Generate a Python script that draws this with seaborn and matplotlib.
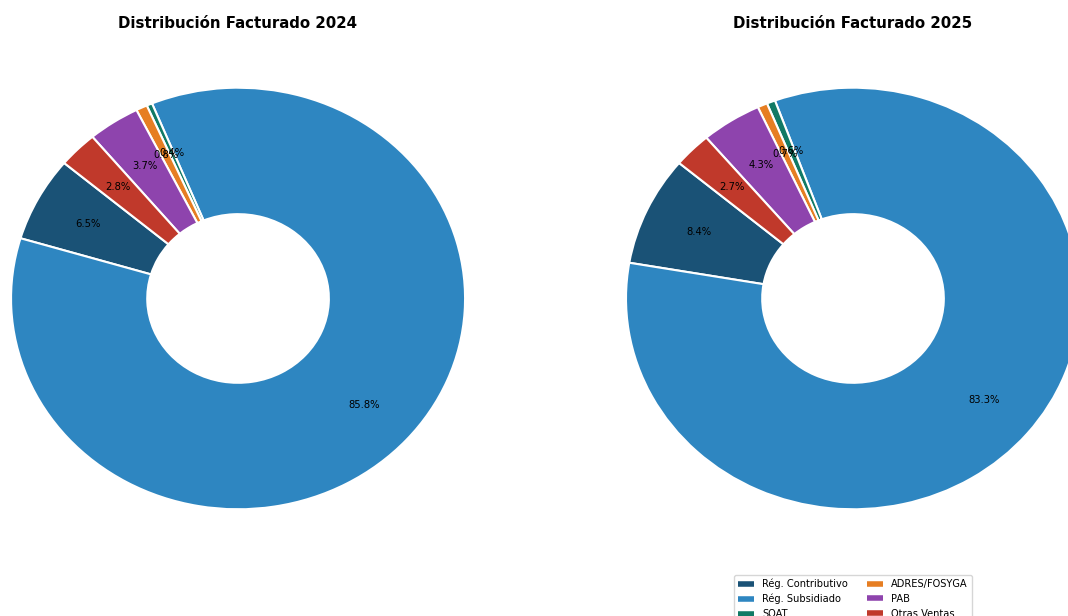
import matplotlib
matplotlib.use("Agg")
import matplotlib.pyplot as plt
from matplotlib.lines import Line2D
import seaborn as sns

# data
categories = ["Rég. Contributivo", "Rég. Subsidiado", "SOAT", "ADRES/FOSYGA", "PAB", "Otras Ventas"]
values_2024 = [6.5, 85.8, 0.4, 0.8, 3.7, 2.8]
values_2025 = [8.4, 83.3, 0.6, 0.7, 4.3, 2.7]
years = ["2024", "2025"]
colors = sns.color_palette(["#1a5276", "#2e86c1", "#117a65", "#e67e22", "#8e44ad", "#c0392b"])

sns.set_theme(style="white")
plt.rcParams["font.family"] = ["DejaVu Sans"]
plt.rcParams["text.color"] = "black"

fig = plt.figure(figsize=(10.68, 6.16), dpi=100)
ax1 = fig.add_axes([-0.0428, 0.0877, 0.5314, 0.8555])
ax2 = fig.add_axes([0.5330, 0.0877, 0.5314, 0.8555])

for ax, vals, yr in zip([ax1, ax2], [values_2024, values_2025], years):
    ax.pie(
        vals,
        colors=colors,
        startangle=140,
        autopct="%1.1f%%",
        pctdistance=0.75,
        wedgeprops=dict(width=0.6, edgecolor="white", linewidth=1.5),
        textprops=dict(fontsize=7.2, color="black"),
    )
    ax.set_aspect("auto")
    ax.set_xlim(-1.25, 1.25)
    ax.set_ylim(-1.25, 1.25)
    ax.set_title(f"Distribución Facturado {yr}", fontsize=10.8, fontweight="bold",
                 color="black", pad=5)

handles = [Line2D([0], [0], color=c, lw=4, solid_capstyle="butt") for c in colors]
ax2.legend(handles, categories, loc="upper center", bbox_to_anchor=(0.5, -0.0145),
           ncol=2, fontsize=7.1, frameon=True, handlelength=1.6,
           labelcolor="black")

fig.savefig("out.png", dpi=100)
